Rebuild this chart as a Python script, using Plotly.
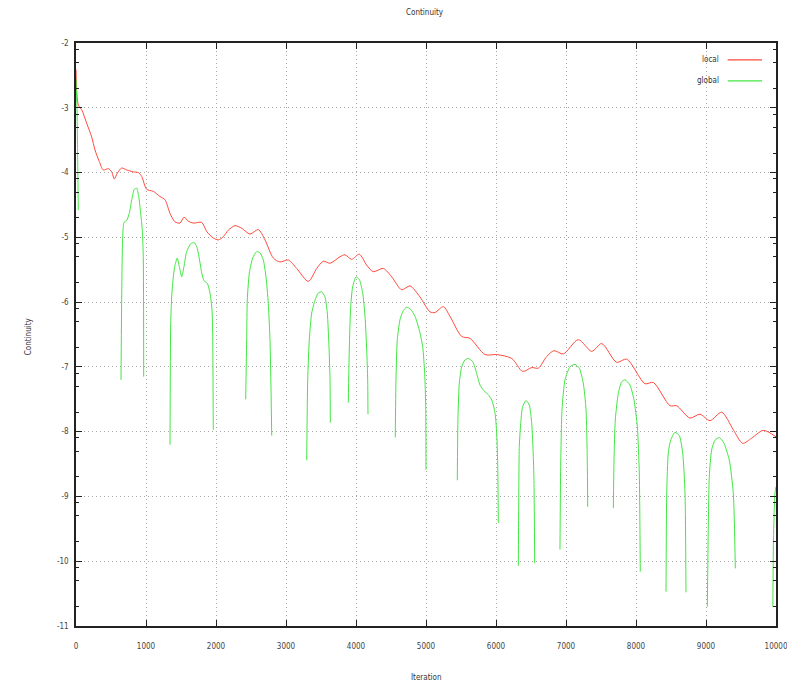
import math
import plotly.graph_objects as go

# ---------------- data ----------------
iter_local = [0, 33, 81, 153, 224, 271, 333, 390, 461, 510, 547, 590, 653, 724, 819, 890, 939, 1010,
              1104, 1200, 1271, 1343, 1414, 1486, 1543, 1604, 1676, 1796, 1867, 1961, 2033, 2104,
              2176, 2271, 2367, 2486, 2604, 2700, 2819, 2914, 3033, 3153, 3319, 3439, 3533, 3629,
              3771, 3843, 3939, 4047, 4153, 4247, 4390, 4510, 4653, 4771, 4914, 5057, 5129, 5247,
              5343, 5510, 5629, 5843, 6010, 6224, 6381, 6510, 6604, 6724, 6829, 6961, 7176, 7367,
              7510, 7724, 7867, 8129, 8247, 8486, 8581, 8771, 8914, 9057, 9224, 9390, 9524, 9653,
              9819, 10000]
local_vals = [-2.41, -2.96, -3.03, -3.24, -3.45, -3.65, -3.83, -3.96, -3.94, -3.99, -4.10, -4.01,
              -3.93, -3.96, -3.99, -4.00, -4.06, -4.26, -4.29, -4.37, -4.42, -4.63, -4.76, -4.78,
              -4.69, -4.75, -4.78, -4.77, -4.91, -5.01, -5.04, -4.99, -4.89, -4.82, -4.86, -4.95,
              -4.88, -5.04, -5.32, -5.38, -5.35, -5.48, -5.68, -5.48, -5.37, -5.40, -5.30, -5.27,
              -5.34, -5.26, -5.43, -5.53, -5.48, -5.61, -5.81, -5.75, -5.92, -6.15, -6.16, -6.07,
              -6.22, -6.53, -6.56, -6.81, -6.81, -6.87, -7.07, -7.01, -7.02, -6.84, -6.75, -6.80,
              -6.58, -6.76, -6.64, -6.93, -6.88, -7.26, -7.24, -7.60, -7.60, -7.79, -7.73, -7.83,
              -7.70, -7.97, -8.18, -8.10, -7.98, -8.08]

# global residual: separate arches (None = undefined log value -> gap)
iter_global = [0, 14, 24, 33, None,
               643, 653, 667, 686, 724, 761, 796, 833, 867, 896, 924, 947, 961, 967, None,
               1343, 1353, 1367, 1390, 1414, 1447, 1476, 1510, 1543, 1581, 1639, 1686, 1724, 1757,
               1796, 1829, 1876, 1914, 1943, 1953, 1961, None,
               2424, 2439, 2447, 2476, 2524, 2581, 2629, 2676, 2714, 2747, 2771, 2786, 2796, None,
               3296, 3310, 3333, 3367, 3414, 3461, 3510, 3557, 3590, 3614, 3629, 3633, None,
               3890, 3904, 3924, 3953, 4000, 4047, 4096, 4129, 4153, 4167, 4171, None,
               4561, 4571, 4590, 4629, 4676, 4724, 4781, 4843, 4904, 4953, 4981, 4996, 5000, None,
               5447, 5457, 5476, 5510, 5557, 5604, 5667, 5724, 5771, 5829, 5890, 5939, 5986, 6010,
               6024, 6033, None,
               6319, 6324, 6333, 6353, 6381, 6429, 6476, 6510, 6533, 6543, 6553, None,
               6914, 6924, 6943, 6986, 7057, 7129, 7190, 7247, 7286, 7304, 7310, None,
               7676, 7686, 7704, 7747, 7796, 7843, 7914, 7971, 8019, 8047, 8061, None,
               8429, 8439, 8461, 8496, 8557, 8619, 8667, 8700, 8714, None,
               9019, 9033, 9047, 9081, 9129, 9190, 9257, 9333, 9390, 9419, None,
               9955, 9965, 9985, 10000]
global_vals = [-2.56, -3.0, -3.8, -4.58, None,
               -7.20, -5.89, -4.99, -4.77, -4.74, -4.63, -4.42, -4.26, -4.24, -4.37, -4.63, -4.89,
               -5.30, -7.15, None,
               -8.20, -6.33, -5.92, -5.61, -5.43, -5.32, -5.45, -5.61, -5.45, -5.22, -5.10, -5.08,
               -5.14, -5.30, -5.55, -5.67, -5.71, -5.86, -6.12, -6.53, -7.97, None,
               -7.50, -6.53, -5.97, -5.55, -5.32, -5.22, -5.24, -5.35, -5.61, -6.02, -6.58, -7.35,
               -8.06, None,
               -8.44, -7.20, -6.58, -6.17, -5.97, -5.86, -5.84, -5.92, -6.17, -6.68, -7.20, -7.86,
               None,
               -7.55, -6.74, -6.07, -5.76, -5.61, -5.65, -5.86, -6.22, -6.74, -7.20, -7.73, None,
               -8.09, -7.20, -6.58, -6.27, -6.13, -6.08, -6.11, -6.22, -6.43, -6.69, -7.10, -7.61,
               -8.59, None,
               -8.75, -7.77, -7.25, -7.00, -6.89, -6.87, -6.92, -7.10, -7.28, -7.37, -7.43, -7.51,
               -7.71, -8.02, -8.49, -9.41, None,
               -10.07, -9.16, -8.23, -7.87, -7.61, -7.52, -7.59, -7.87, -8.38, -8.80, -10.03, None,
               -9.82, -8.54, -7.66, -7.20, -7.00, -6.96, -7.02, -7.25, -7.66, -8.44, -9.16, None,
               -9.18, -8.44, -7.82, -7.41, -7.23, -7.20, -7.28, -7.51, -7.92, -8.64, -10.16, None,
               -10.47, -8.95, -8.33, -8.13, -8.01, -8.06, -8.33, -8.95, -10.48, None,
               -10.70, -9.46, -8.69, -8.28, -8.13, -8.09, -8.18, -8.44, -8.95, -10.11, None,
               -10.70, -9.60, -8.95, -8.85]

x_ticks = [0, 1000, 2000, 3000, 4000, 5000, 6000, 7000, 8000, 9000, 10000]
y_ticks = [-11, -10, -9, -8, -7, -6, -5, -4, -3, -2]
series_names = ["local", "global"]

# ---------------- figure ----------------
RED = "#ff4a3d"
GREEN = "#42e642"
FONT = "Liberation Sans Narrow, DejaVu Sans Condensed, Arial Narrow, sans-serif"

fig = go.Figure()
fig.add_trace(go.Scatter(x=iter_local, y=local_vals, mode="lines", name=series_names[0],
                         line=dict(color=RED, width=1, shape="spline", smoothing=0.8)))
fig.add_trace(go.Scatter(x=iter_global, y=global_vals, mode="lines", name=series_names[1],
                         connectgaps=False,
                         line=dict(color=GREEN, width=1, shape="spline", smoothing=0.6)))

minor_y = []
for n in range(-11, -2):
    for k in (2, 5, 8):
        minor_y.append(n + math.log10(k))

axis_common = dict(showline=True, linecolor="#222", linewidth=1.5, mirror="ticks",
                   ticks="inside", ticklen=6, tickwidth=1.2, tickcolor="#222",
                   showgrid=True, gridcolor="#a8a8a8", griddash="1px,3px", gridwidth=1,
                   zeroline=False, automargin=False, ticklabeloverflow="allow",
                   tickfont=dict(family=FONT, size=8, color="#444"))

fig.update_xaxes(range=[0, 10000], tickmode="array", tickvals=x_ticks,
                 ticktext=[str(v) for v in x_ticks], ticklabelstandoff=12, **axis_common)
fig.update_yaxes(range=[-11, -2], tickmode="array", tickvals=y_ticks,
                 ticktext=[str(v) for v in y_ticks], ticklabelstandoff=4,
                 minor=dict(tickmode="array", tickvals=minor_y, ticks="inside", ticklen=3,
                            tickwidth=1, tickcolor="#222", showgrid=False),
                 **axis_common)

txt_font = dict(family=FONT, size=8, color="#333")
annotations = [
    dict(text="Continuity", x=0.4986, y=1.053, xref="paper", yref="paper", showarrow=False,
         yanchor="middle", font=txt_font),
    dict(text="Iteration", x=0.5, y=-0.0875, xref="paper", yref="paper", showarrow=False,
         yanchor="middle", font=txt_font),
    dict(text="Continuity", x=-0.0686, y=0.497, xref="paper", yref="paper", showarrow=False,
         xanchor="center", yanchor="middle", textangle=-90, font=txt_font),
    dict(text=series_names[0], x=0.921, y=0.971, xref="paper", yref="paper", showarrow=False,
         xanchor="right", yanchor="middle", font=txt_font),
    dict(text=series_names[1], x=0.921, y=0.935, xref="paper", yref="paper", showarrow=False,
         xanchor="right", yanchor="middle", font=txt_font),
]
shapes = [
    dict(type="line", xref="paper", yref="paper", x0=0.931, x1=0.980, y0=0.971, y1=0.971,
         line=dict(color=RED, width=1.2)),
    dict(type="line", xref="paper", yref="paper", x0=0.931, x1=0.980, y0=0.935, y1=0.935,
         line=dict(color=GREEN, width=1.2)),
]

fig.update_layout(width=787, height=684, autosize=False,
                  margin=dict(l=76, r=11, t=43, b=58),
                  plot_bgcolor="white", paper_bgcolor="white", showlegend=False,
                  annotations=annotations, shapes=shapes)

fig.write_html("out.html", config={"responsive": False})
